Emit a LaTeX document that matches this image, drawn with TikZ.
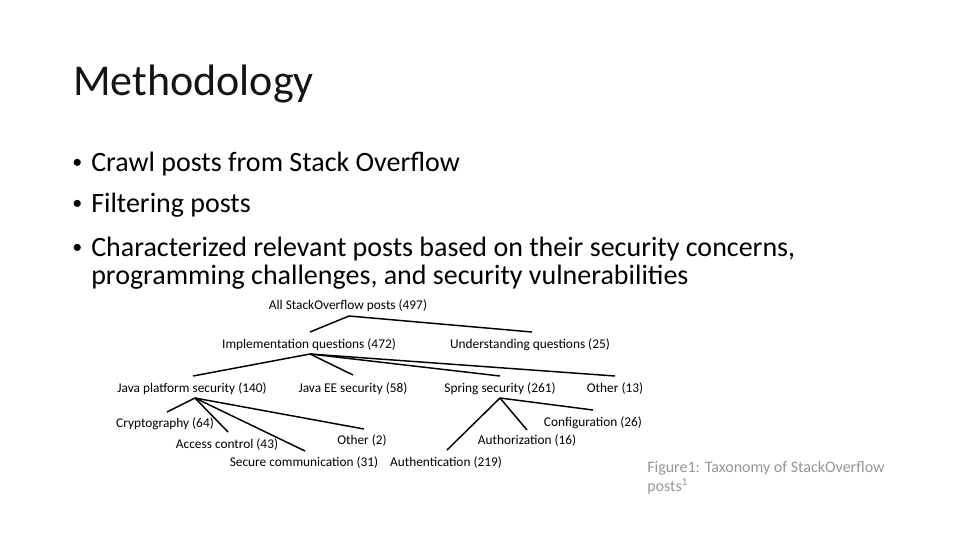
\documentclass[tikz,border=0pt]{standalone}
\usepackage{fontspec}
\setmainfont{Carlito}
\definecolor{capgray}{RGB}{150,150,150}
\definecolor{titlecol}{RGB}{20,20,20}
\begin{document}
\begin{tikzpicture}[x=0.75pt,y=-0.75pt,
  title/.style={anchor=base west,inner sep=0pt,text=titlecol,font=\fontsize{33}{36}\selectfont},
  bullet/.style={anchor=base west,inner sep=0pt,font=\fontsize{21}{24}\selectfont},
  dot/.style={anchor=base west,inner sep=0pt,font=\fontsize{15}{18}\selectfont},
  leaf/.style={anchor=base,inner sep=0pt,font=\fontsize{10}{12}\selectfont},
  caption/.style={anchor=base west,inner sep=0pt,text=capgray,font=\fontsize{12}{14}\selectfont},
  edge/.style={draw=black,line width=1.1pt}]
\useasboundingbox (0,0) rectangle (960,540);
\node[title] (t) at (73,95) {Methodology};
\node[dot] (d1) at (72,168) {•};
\node[dot] (d2) at (72,209) {•};
\node[dot] (d3) at (72,253) {•};
\node[bullet] (b1) at (91,171) {Crawl posts from Stack Overflow};
\node[bullet] (b2) at (91,212) {Filtering posts};
\node[bullet] (b3) at (91,256) {Characterized relevant posts based on their security concerns,};
\node[bullet] (b4) at (91,284) {programming challenges, and security vulnerabilities};
% tree
\node[leaf] (all) at (348,309) {All StackOverflow posts (497)};
\node[leaf] (impl) at (309,348) {Implementation questions (472)};
\node[leaf] (und) at (530,348) {Understanding questions (25)};
\node[leaf] (jps) at (192,392) {Java platform security (140)};
\node[leaf] (jee) at (353,392) {Java EE security (58)};
\node[leaf] (spr) at (500,392) {Spring security (261)};
\node[leaf] (oth13) at (615,392) {Other (13)};
\node[leaf] (cry) at (165,427) {Cryptography (64)};
\node[leaf] (acc) at (227,448) {Access control (43)};
\node[leaf] (oth2) at (362,444) {Other (2)};
\node[leaf] (sec) at (304,466) {Secure communication (31)};
\node[leaf] (authn) at (446,466) {Authentication (219)};
\node[leaf] (authz) at (527,444) {Authorization (16)};
\node[leaf] (conf) at (593,426) {Configuration (26)};
% apex coordinates
\coordinate (allp) at (349,316);
\coordinate (implp) at (310,354);
\coordinate (jpsp) at (195,398);
\coordinate (sprp) at (500,398);
% top ends of children
\coordinate (implt) at (310,332);
\coordinate (undt) at (532,332);
\coordinate (jpst) at (193,376);
\coordinate (jeet) at (353,375);
\coordinate (sprt) at (500,376);
\coordinate (oth13t) at (615,376);
\coordinate (cryt) at (167,412);
\coordinate (acct) at (228,432);
\coordinate (sect) at (305,451);
\coordinate (oth2t) at (364,429);
\coordinate (authnt) at (447,450);
\coordinate (authzt) at (527,430);
\coordinate (conft) at (593,410);
\draw[edge] (allp) -- (implt);
\draw[edge] (allp) -- (undt);
\draw[edge] (implp) -- (jpst);
\draw[edge] (implp) -- (jeet);
\draw[edge] (implp) -- (sprt);
\draw[edge] (implp) -- (oth13t);
\draw[edge] (jpsp) -- (cryt);
\draw[edge] (jpsp) -- (acct);
\draw[edge] (jpsp) -- (sect);
\draw[edge] (jpsp) -- (oth2t);
\draw[edge] (sprp) -- (authnt);
\draw[edge] (sprp) -- (authzt);
\draw[edge] (sprp) -- (conft);
% caption
\node[caption] (cap1) at (647,472) {Figure1: Taxonomy of StackOverflow};
\node[caption] (cap2) at (647,491) {posts\textsuperscript{1}};
\end{tikzpicture}
\end{document}
